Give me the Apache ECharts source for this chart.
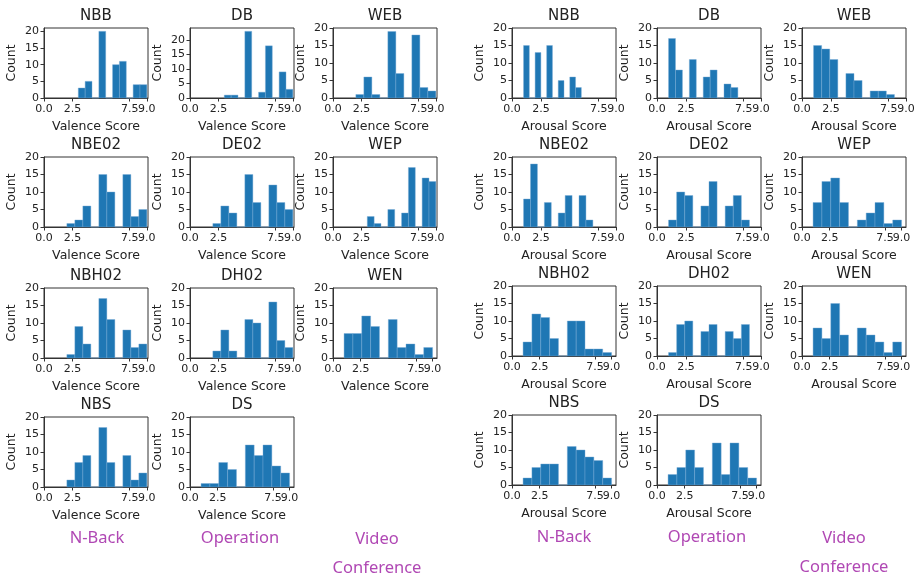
<!DOCTYPE html>
<html><head><meta charset="utf-8">
<script src="https://cdn.jsdelivr.net/npm/echarts@6/dist/echarts.min.js"></script>
<style>html,body{margin:0;padding:0;background:#fff}#c{width:915px;height:575px}</style>
</head><body><div id="c"></div><script>
// ---- data ----
const panelNames = ['NBB','DB','WEB','NBE02','DE02','WEP','NBH02','DH02','WEN','NBS','DS'];
// histogram bin ranges (data min / max), 10 bins each
const valenceLo = [3,3,2,2,2,3,2,2,1,2,1];
const valenceHi = [9,9,9,9,9,9,9,9,9,9,9];
const arousalLo = [1,1,1,1,1,1,1,1,1,1,1];
const arousalHi = [6,7,8,7,8,9,9,8,9,9,9];
// upper x-axis limit of each panel
const valenceXMax = [9.1,9.1,9.1,9.1,9.1,9.1,9.1,9.1,9.4,9.1,9.4];
const arousalXMax = [9,9,9,9,9,9.4,9.4,9,9.4,9.4,9.4];
// valence counts per panel
const valNBB   = [3,5,0,20,0,10,11,0,4,4];
const valDB    = [1,1,0,23,0,2,18,0,9,3];
const valWEB   = [1,6,1,0,19,7,0,18,3,2];
const valNBE02 = [1,2,6,0,15,10,0,15,3,5];
const valDE02  = [1,6,4,0,15,7,0,12,7,5];
const valWEP   = [3,1,0,5,0,4,17,0,14,13];
const valNBH02 = [1,9,4,0,17,11,0,8,3,4];
const valDH02  = [2,8,2,0,11,10,0,16,5,3];
const valWEN   = [7,7,12,9,0,11,3,4,1,3];
const valNBS   = [2,7,9,0,17,7,0,9,2,4];
const valDS    = [1,1,7,5,0,12,9,12,6,4];
// arousal counts per panel
const aroNBB   = [15,0,13,0,15,0,5,0,6,3];
const aroDB    = [17,8,0,11,0,6,8,0,4,3];
const aroWEB   = [15,14,11,0,7,5,0,2,2,1];
const aroNBE02 = [8,18,0,7,0,4,9,0,9,2];
const aroDE02  = [2,10,9,0,6,13,0,6,9,2];
const aroWEP   = [7,13,14,7,0,2,4,7,1,2];
const aroNBH02 = [4,12,11,5,0,10,10,2,2,1];
const aroDH02  = [1,9,10,0,7,9,0,7,5,9];
const aroWEN   = [8,5,15,6,0,8,6,4,1,4];
const aroNBS   = [2,5,6,6,0,11,10,8,7,2];
const aroDS    = [3,5,10,5,0,12,3,12,5,2];
const valenceCounts = [valNBB,valDB,valWEB,valNBE02,valDE02,valWEP,valNBH02,valDH02,valWEN,valNBS,valDS];
const arousalCounts = [aroNBB,aroDB,aroWEB,aroNBE02,aroDE02,aroWEP,aroNBH02,aroDH02,aroWEN,aroNBS,aroDS];
const xTicksMain = [0, 2.5, 7.5];
const xTicksEnd = [9];
const yTicks = [0, 5, 10, 15, 20];
const groupLabels = ['N-Back', 'Operation', 'Video\nConference'];

// ---- layout ----
const W = 104, H = 70;
const leftCols = [44, 190, 333], leftRows = [28, 157, 288, 417];
const rightCols = [512, 657, 802], rightRows = [28, 157, 286, 415];
const FONT = 'DejaVu Sans';
const INK = '#222';
const AX = '#333';
const TICK_FS = 11;

const grids = [], xAxes = [], yAxes = [], series = [], graphics = [];

function xAxisDef(k, xmax, ticks, withName, xName) {
  return {type: 'value', gridIndex: k, min: 0, max: xmax, position: 'bottom',
    name: withName ? xName : '', nameLocation: 'middle', nameGap: 22,
    nameTextStyle: {fontSize: 12.5, color: INK, fontFamily: FONT},
    axisLine: {show: withName, onZero: false, lineStyle: {color: AX, width: 1}},
    axisTick: {show: true, length: 3.5, customValues: ticks, lineStyle: {color: AX, width: 1}},
    axisLabel: {customValues: ticks, formatter: v => v.toFixed(1), fontSize: TICK_FS, color: INK,
      fontFamily: FONT, margin: 6, hideOverlap: false},
    splitLine: {show: false}};
}

function addPanel(name, lo, hi, xmax, counts, left, top, xName) {
  const k = grids.length;
  const w = (hi - lo) / 10;
  const data = counts.map((c, i) => [lo + i * w, lo + (i + 1) * w, c]);
  const ymax = Math.max(20, 1.05 * Math.max(...counts));
  grids.push({left: left, top: top, width: W, height: H, show: true,
    borderColor: AX, borderWidth: 1, backgroundColor: 'transparent', outerBoundsMode: 'none'});
  const xi = xAxes.length;
  xAxes.push(xAxisDef(k, xmax, xTicksMain, true, xName));
  xAxes.push(xAxisDef(k, xmax, xTicksEnd, false, xName));
  yAxes.push({type: 'value', gridIndex: k, min: 0, max: ymax,
    name: 'Count', nameLocation: 'middle', nameGap: 25.5,
    nameTextStyle: {fontSize: 12.5, color: INK, fontFamily: FONT},
    axisLine: {show: true, onZero: false, lineStyle: {color: AX, width: 1}},
    axisTick: {show: true, length: 3.5, customValues: yTicks, lineStyle: {color: AX, width: 1}},
    axisLabel: {customValues: yTicks, fontSize: TICK_FS, color: INK, fontFamily: FONT, margin: 5,
      hideOverlap: false},
    splitLine: {show: false}});
  series.push({type: 'custom', xAxisIndex: xi, yAxisIndex: k, data: data,
    encode: {x: [0, 1], y: 2},
    renderItem: function (params, api) {
      const p0 = api.coord([api.value(0), 0]);
      const p1 = api.coord([api.value(1), api.value(2)]);
      return {type: 'rect',
        shape: {x: p0[0], y: p1[1], width: p1[0] - p0[0], height: p0[1] - p1[1]},
        style: {fill: '#1f77b4', stroke: 'rgba(120,170,215,0.7)', lineWidth: 0.6}};
    }});
  graphics.push({type: 'text', x: left + W / 2, y: top - 11.5,
    style: {text: name, align: 'center', verticalAlign: 'middle', fontSize: 15, fontFamily: FONT, fill: INK}});
}

panelNames.forEach((n, i) => {
  const r = Math.floor(i / 3), c = i % 3;
  addPanel(n, valenceLo[i], valenceHi[i], valenceXMax[i], valenceCounts[i], leftCols[c], leftRows[r], 'Valence Score');
  addPanel(n, arousalLo[i], arousalHi[i], arousalXMax[i], arousalCounts[i], rightCols[c], rightRows[r], 'Arousal Score');
});

const labelPos = [[97, 538], [240, 538], [377, 553.5], [564, 537], [707, 537], [844, 552.5]];
labelPos.forEach((p, i) => {
  graphics.push({type: 'text', x: p[0], y: p[1],
    style: {text: groupLabels[i % 3], align: 'center', verticalAlign: 'middle', lineHeight: 29,
      fontSize: 16.5, fontFamily: 'Noto Sans', fill: '#b048b4'}});
});

const chart = echarts.init(document.getElementById('c'), null, {renderer: 'canvas'});
chart.setOption({animation: false, grid: grids, xAxis: xAxes, yAxis: yAxes, series: series,
  graphic: graphics});
</script></body></html>
